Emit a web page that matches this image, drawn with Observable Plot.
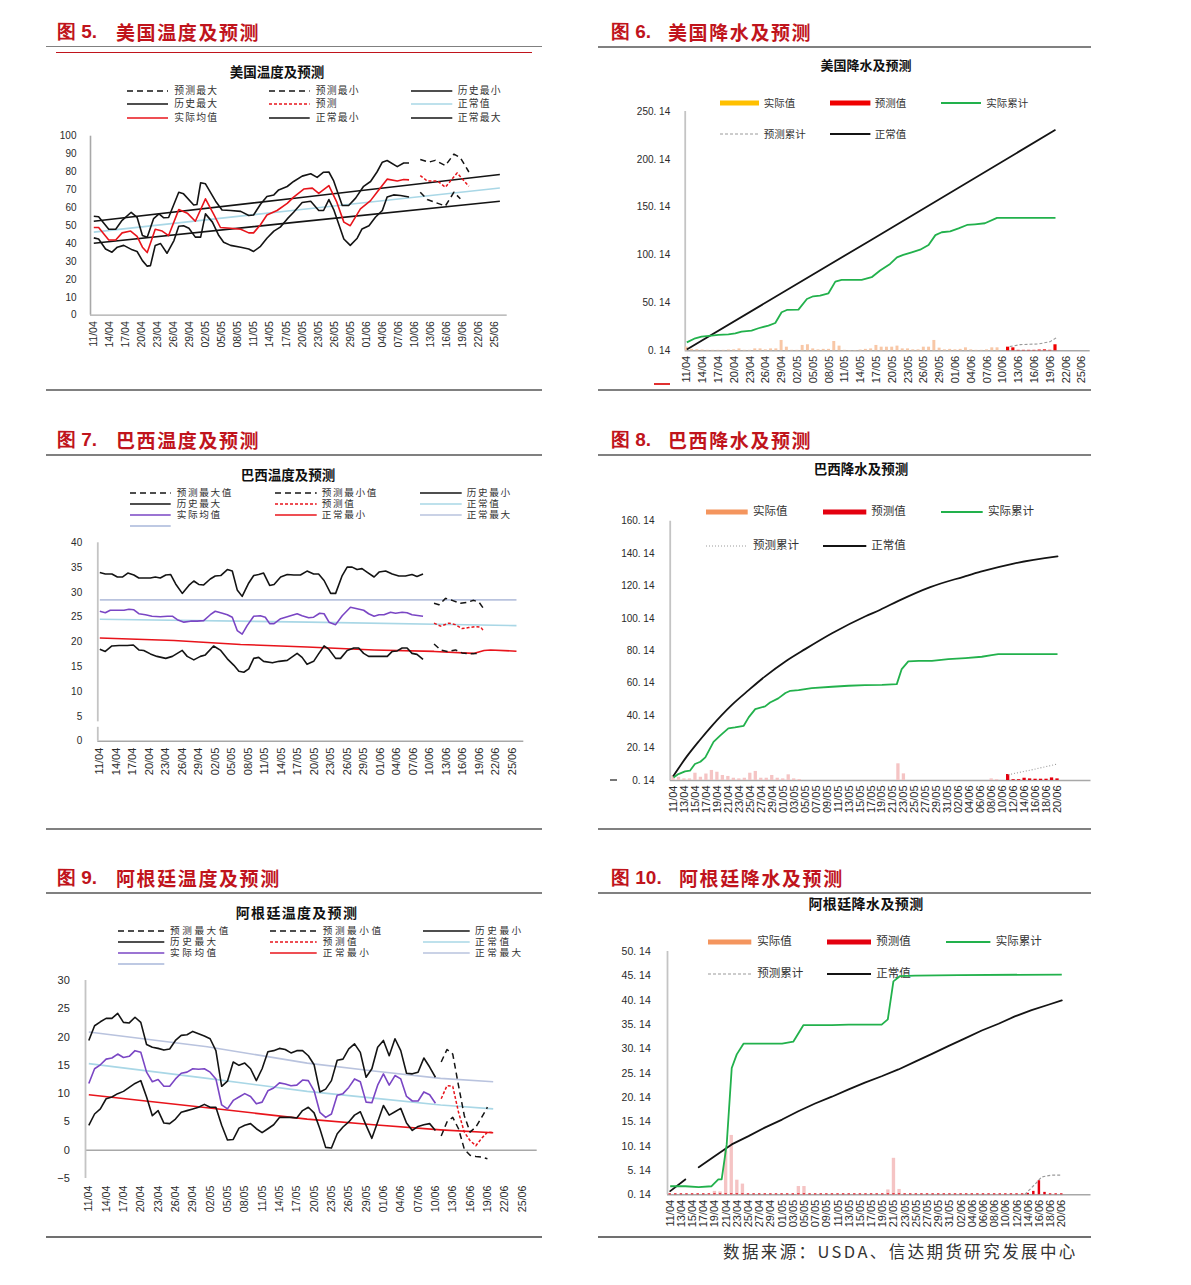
<!DOCTYPE html>
<html><head><meta charset="utf-8">
<script src="https://cdn.jsdelivr.net/npm/d3@7"></script>
<script src="https://cdn.jsdelivr.net/npm/@observablehq/plot@0.6"></script>
<style>
body{margin:0;background:#fff;}
#root{position:relative;width:1191px;height:1285px;overflow:hidden;font-family:"Liberation Sans",Arial,"Noto Sans CJK SC",sans-serif;}
.hdr{position:absolute;color:#c0141c;font-family:"Noto Sans CJK SC",sans-serif;font-weight:700;font-size:19px;white-space:nowrap;line-height:1;transform:translateY(-50%);}
.ttl{position:absolute;font-family:"Noto Sans CJK SC",sans-serif;font-weight:700;color:#111;transform:translate(-50%,-50%);white-space:nowrap;line-height:1;}
.lt{position:absolute;font-family:"Liberation Sans","Noto Sans CJK SC",sans-serif;color:#333;transform:translateY(-50%);white-space:nowrap;line-height:1;}
</style></head><body><div id="root"></div>
<script>
// ---------- tick labels ----------
const ticks3 = ["11/04","14/04","17/04","20/04","23/04","26/04","29/04","02/05","05/05","08/05","11/05","14/05","17/05","20/05","23/05","26/05","29/05","01/06","04/06","07/06","10/06","13/06","16/06","19/06","22/06","25/06"];
const ticks2 = ["11/04","13/04","15/04","17/04","19/04","21/04","23/04","25/04","27/04","29/04","01/05","03/05","05/05","07/05","09/05","11/05","13/05","15/05","17/05","19/05","21/05","23/05","25/05","27/05","29/05","31/05","02/06","04/06","06/06","08/06","10/06","12/06","14/06","16/06","18/06","20/06"];
const tempTicksUS = [0,10,20,30,40,50,60,70,80,90,100];
const tempTicksBR = [0,5,10,15,20,25,30,35,40];
const tempTicksAR = [-5,0,5,10,15,20,25,30];
const precTicksUS = [0.14,50.14,100.14,150.14,200.14,250.14];
const precTicksBR = [0.14,20.14,40.14,60.14,80.14,100.14,120.14,140.14,160.14];
const precTicksAR = [0.14,5.14,10.14,15.14,20.14,25.14,30.14,35.14,40.14,45.14,50.14];

// ---------- 美国温度 (day offset from 11/04, value) ----------
const usTempActual = [[0,49],[0.9,49],[2.8,42],[4.1,42],[5.3,46],[6.9,47],[8.1,44],[9.1,38],[10,35],[11.5,48],[12.8,47],[14,44.5],[15.9,59],[17.5,57],[19,52.5],[20.9,65],[22.5,56],[23.7,49],[25.6,48.6],[27.5,48],[29,46],[29.9,46],[31.2,50.5],[32.4,56],[34.3,58.5],[36.2,62.5],[37.4,66],[39.3,70.5],[40.9,71],[42.1,68],[44,72.4],[45.5,63],[46.8,52],[48,50],[49.9,59.4],[51.8,64],[53,68.7],[54.9,76],[56.8,75],[58,75.8],[59,75.6]];
const usTempForecast = [[61.1,78],[62.4,75],[64.3,75],[65.8,71.5],[68,79.5],[70.2,72]];
const usTempHistMax = [[0,55.3],[0.9,55],[2.8,48],[4.1,48],[5.3,53],[7,57.5],[8.1,54.7],[9.1,44.5],[10,43.6],[11.2,54],[12.2,56.6],[13.1,54.4],[14,54.6],[15.9,68.7],[16.8,67.8],[18.7,61.6],[19.3,61.8],[20,74],[20.9,73.4],[22.8,63.7],[24,58.8],[25.6,58.5],[27.5,58],[29,55.7],[29.9,56],[31.2,62],[32.4,66.3],[33.7,67.2],[34.6,70],[36.2,71.9],[37.4,74.7],[39,77.7],[40.6,79],[41.8,77],[43,79.9],[44,80],[44.9,75],[46.5,61.3],[47.7,61.3],[49,65.4],[50.5,72],[51.8,74.7],[53,80],[54,85.5],[54.9,86.4],[56.8,83],[58,85],[59,85]];
const usTempFcMax = [[61.1,87],[62.7,85.5],[63.9,86.5],[65.8,83.6],[67.4,90],[68.6,88],[70.2,80]];
const usTempHistMin = [[0,43.2],[0.9,42.6],[2.2,37],[3.4,35.2],[4.4,38],[5.6,39],[7.2,36.5],[8.1,35.6],[9.1,30.5],[10,27.4],[10.6,27.7],[11.5,39],[12.5,40],[13.7,34.6],[15,41.7],[15.9,49.7],[16.8,50],[17.8,48.6],[19,43.6],[20,43.6],[20.9,56.6],[22.2,52],[23.4,44.5],[24.3,40.8],[25.6,39],[27.5,38],[29,37],[29.9,35.6],[31.2,38.5],[32.4,43],[33.7,47],[34.9,49.2],[36.2,53.8],[37.4,57.5],[39,63],[40.6,63.7],[42.1,58.5],[43,58.5],[44,64.6],[44.9,59],[46.8,42.6],[48,39],[49.3,43],[50.2,48.2],[51.5,50],[52.7,54.7],[54,58.5],[54.9,66],[56.1,67.2],[57.4,66.9],[59,66]];
const usTempFcMin = [[61.1,68.7],[62.4,64.6],[63.9,63],[65.8,61],[67.4,68.7],[68.6,65]];
const usTempNormMax = [[0,52.5],[38,65.5],[76,78.6]];
const usTempNorm = [[0,46.4],[38,58.8],[76,71.1]];
const usTempNormMin = [[0,40.2],[38,52],[76,63.7]];

// ---------- 美国降水 ----------
const usPrecAct = [3.8,1.5,1.2,0.8,0.5,0.5,0.5,0.5,0.8,1,2,0.5,0.5,2,2,1,2,2,10.8,3.8,0.5,0.5,5.6,6.3,2,1,1.5,1.5,9.7,4.9,0.5,0.3,0.3,0.8,1.5,2,5.6,3.8,3.8,3.8,4.9,2,2,1,1,3.8,3.8,10.8,2.8,1,1.5,1,1.5,3.1,1,0.5,0.5,1,3.1,3.1];
const usPrecFc = [3.8,3.1,0.5,0.5,0.5,0.5,0.8,1,0.5,6.3]; // from day 61
const usPrecCum = [[0,9],[1.6,13.2],[2.8,15],[4.7,16],[6,16.7],[7.9,17.4],[9.2,18.4],[10.4,20.2],[12.3,21.2],[13.6,23.7],[15.5,26.5],[16.8,29.2],[18,40.4],[19,42.8],[21.2,43.2],[22.8,54.3],[24,57.1],[25.3,57.8],[26.9,60.2],[28.2,72.4],[29.4,74.2],[31.3,74.2],[33.2,74.2],[35.1,77],[36.7,84],[38.6,90.9],[39.9,97.8],[41.1,100.3],[42.7,103],[44.3,105.8],[45.9,110.7],[47.2,121],[48.4,124],[50,125],[51.6,128],[53.2,131.6],[54.7,132.3],[56.6,133.4],[58.9,139],[61.1,139],[65.5,139],[70,139]];
const usPrecFcCum = [[61.3,4.5],[63.3,6.6],[66.8,7.3],[69,9.7],[70.3,14.3]];
const usPrecNormal = [[0,1.5],[35,116],[70,231]];

// ---------- 巴西温度 ----------
const brTempHistMax = [[0,34],[1,33.7],[2.2,33.7],[3.2,33.1],[4.1,33.1],[5.1,33.9],[6.2,33.5],[7.1,32.9],[8.3,32.9],[9.2,32.9],[10.1,33.1],[11,32.9],[12,33.5],[12.9,33.6],[13.8,31.7],[15,29.8],[16.2,31.4],[17.1,32.3],[18,31.6],[18.9,31.5],[20.1,32.7],[21,33.3],[22,33.4],[23.2,34.6],[24.1,34.3],[25,30.5],[25.9,29.2],[27.1,31.9],[28,33.4],[28.9,33.6],[29.8,33.9],[30.9,31.4],[31.7,31.6],[32.9,33.1],[34.1,33.6],[35.3,33.5],[36.5,33.5],[37.7,34.3],[38.9,33.7],[39.8,33.7],[40.8,32.4],[42,29.8],[42.9,29.8],[44.1,33.4],[45,35.1],[45.9,35.1],[46.8,34.6],[47.7,34.8],[48.6,34.1],[49.9,33.1],[50.8,34.1],[52,34.3],[53.2,33.7],[54.4,33.3],[55.6,33.3],[56.8,33.6],[57.7,33.2],[58.8,33.7]];
const brTempHistMin = [[0,18.55],[1,18.1],[2.2,19.2],[3.5,19.3],[5,19.3],[6.1,19.4],[7.1,18.4],[8,18.3],[9.2,17.6],[10.4,17.1],[12,16.7],[13.2,17.1],[15,18.3],[15.9,17.1],[17.1,16.4],[18.3,17.1],[19.2,17.4],[20.7,19.2],[22,18.3],[23.2,16.6],[24.4,15.3],[25.3,14.1],[26.2,13.9],[27.1,14.6],[28,16.7],[28.9,16.9],[29.8,16.1],[31.4,15.8],[32.6,16.1],[34.1,16.3],[35.9,17.7],[36.8,16.9],[37.7,15.5],[38.9,16.1],[39.8,17.6],[40.8,19.2],[41.7,18.5],[42.9,16.7],[43.8,16.7],[45,18.3],[46.2,18.8],[47.1,18.8],[48,17.7],[48.9,17.1],[49.9,17.1],[51.4,17.1],[52.3,17.1],[53.2,18.1],[54.1,18.2],[55,18.8],[55.9,18.8],[56.8,17.7],[57.7,17.5],[58.8,16.5]];
const brTempActual = [[0,26.2],[1,25.9],[1.9,26.4],[3.5,26.4],[4.4,26.4],[5.3,26.6],[6.2,26.5],[7.1,25.7],[8.3,25.5],[9.5,25.2],[11,25.1],[12.3,25.2],[13.2,25.2],[14.1,24.5],[15.3,24],[16.5,24.2],[17.7,24.2],[18.9,24.3],[20.1,25.5],[21,26.2],[22.3,25.8],[23.2,25.5],[24.1,25],[25,22.3],[25.9,21.6],[26.8,23.3],[28,25.2],[29.2,25.3],[30.1,25],[30.9,23.7],[31.7,23.7],[32.9,24.7],[34.4,25.2],[35.9,25.7],[36.8,25.3],[38,24.9],[38.9,25],[40,25.8],[40.8,25.7],[41.7,24],[42.9,23.5],[44.1,25.3],[45.6,27],[46.8,26.7],[48,26.4],[48.9,25.7],[49.9,25.2],[50.8,25.5],[51.7,25.5],[52.9,26],[53.8,25.8],[55,26],[55.9,25.9],[56.8,25.5],[58.8,25.2]];
const brTempFcMax = [[60.8,27.8],[61.7,27.5],[62.9,28.8],[64.1,28.4],[65.6,27.8],[66.8,28],[68,28.4],[69,28],[69.9,26.6]];
const brTempFc = [[60.8,23.8],[62,23.2],[63.5,23.8],[64.7,23.5],[65.9,22.7],[67.1,22.9],[68.3,23.1],[69.3,23],[69.9,22.1]];
const brTempFcMin = [[60.8,19.6],[62,18.4],[63.2,18.1],[64.7,18.4],[65.9,17.8],[67.1,17.6],[68.3,17.7],[69.3,17.7]];
const brTempNormMax = [[0,28.5],[38,28.5],[75.8,28.5]];
const brTempNorm = [[0,24.6],[38,24],[75.8,23.3]];
const brTempNormMin = [[0,20.8],[13.5,20.3],[25.6,19.5],[37.7,19],[49.9,18.4],[60.8,18.1],[68,17.7],[69.9,18.3],[71.1,18.4],[75.8,18.15]];

// ---------- 巴西降水 ----------
const brPrecAct = [3,2,1,1,4.5,2,4,6.2,5.1,3.1,2.5,1.4,1,1.4,4.5,5.6,1.4,1.4,3.1,1.4,1,3.5,1,0.6,0,0,0,0,0,0,0,0,0,0,0,0,0,0,0,0,0,10.3,4.1,0,0,0,0,0,0,0,0,0,0,0,0,0,0,0,1,0.5,0];
const brPrecFc = [3.7,0.5,0.5,1.4,1,0.8,0.8,0.8,1.6,1]; // from day 61
const brPrecCum = [[0,2],[0.9,4.1],[2.1,5.8],[3,6.2],[3.9,10.3],[4.9,11.7],[5.8,14.4],[7.3,24],[8.5,27.8],[10,32.3],[11.2,32.9],[12.8,33.9],[13.7,39.1],[14.9,44.2],[16.7,45.9],[17.6,48.3],[19.1,50.8],[20.4,54.1],[21.3,55.5],[22.8,55.9],[25.2,57.2],[28.9,58],[31.9,58.6],[34.9,59],[38,59.2],[40.7,59.6],[41.6,68.9],[42.8,73.6],[44.7,74],[47.1,74],[50.1,75],[53.2,75.7],[56.2,76.5],[58,77.5],[59.2,78.1],[62.3,78.1],[70,78.1]];
const brPrecFcCum = [[61,3.7],[65,6.5],[70,10.3]];
const brPrecNormal = [[0,3],[2.3,14.4],[4.7,24.7],[7,33.9],[10.6,46.7],[13.7,55.9],[16.7,64.4],[20.4,73.6],[24,81.2],[28.9,91],[35,101.5],[37.7,105.5],[41,111],[46.8,119.5],[53,126],[56,129],[62,134],[70,138.4]];

// ---------- 阿根廷温度 (daily from 11/04) ----------
const arTempHistMax = [19.4,22,22.7,23.3,23.3,24.2,22.6,22.5,23.5,22.6,18.7,18.2,18,17.7,17.9,19.4,20.3,20.4,21,20.6,20.2,19.7,17.6,11.3,12.2,15.6,15,15.4,14.4,12.3,14.4,17.4,17.6,18,17.8,17.2,17.6,17.6,16.7,15.1,10.3,10.8,12.3,15.9,16.1,17.9,18.8,17.3,12.9,14.4,18.2,19.4,16.7,19.7,17.6,13.6,13.5,13.8,16.3,14.7,12.9];
const arTempActual = [11.8,14.4,15.1,16.1,16.3,17,16.4,16.6,17.6,17.3,13.8,12.1,12.5,11.3,11.3,12.6,13.6,13.8,14.4,14.3,14.4,13.8,12.6,8,7.3,8.8,9.4,10,9.5,8.2,8.5,10.5,11,11.9,11.7,11.4,11.5,12.4,12.3,10.5,6.7,5.8,6.4,9.7,10,11.1,12.6,12.1,8.5,8.4,11.5,13.5,11.5,13.2,12.6,9.5,8.7,8.7,10.3,9.8,8.3];
const arTempHistMin = [4.4,6.4,7.3,9.1,9.4,10,10.4,11.1,11.8,12.3,9.4,6.1,7,4.8,4.7,5.5,6.7,7,7.3,7.6,8.1,7.6,7.6,4.4,1.8,1.9,3.9,4.4,4.7,3.8,3.1,3.8,4.5,5.8,5.8,5.8,5.7,7,7.6,6.6,3.8,0.5,0.4,2.9,4.1,5,6.2,6.8,4.4,2.1,5,7.9,6.2,6.8,7.4,4.8,3.5,4.2,4.5,4.7,3.5];
const arTempFcMax = [15.6,17.8,17,11.4,6.1,3.2,4.1,5.8,7.6];   // from day 61
const arTempFc = [9.1,11.4,11.3,6.7,3.2,1.7,0.8,2.1,3.2,3.1];   // from day 61
const arTempFcMin = [2.5,5,5.8,3.8,0.2,-0.9,-1.1,-1.2,-1.5];    // from day 61
const arTempNormMax = [[0,20.9],[20.5,18.3],[37.8,15.4],[49.3,14],[60.9,12.7],[70,12.1]];
const arTempNorm = [[0,15.3],[20.5,12.7],[37.8,10.4],[49.3,9.2],[60.9,8],[70,7.3]];
const arTempNormMin = [[0,9.8],[20.5,7.5],[37.8,5.5],[49.3,4.5],[60.9,3.6],[70,3.1]];

// ---------- 阿根廷降水 ----------
const arPrecAct = [0,0,0,0,0,0,0,0.1,0.7,0.6,9,12.2,3,2.2,0,0,0,0,0,0,0,0,0,1.7,1.7,0,0,0,0,0,0,0,0,0,0,0,0,0,0,1,7.5,1.1,0,0,0,0,0,0,0,0,0,0,0,0,0,0,0,0,0,0,0];
const arPrecFc = [0.2,0.2,0.2,0.2,0.2,0.2,0.2,0.2,0.2,0.2,0.2,0.2,0.2,0.2,0.2,0.2,0.2,0.2,0.2,0.2,0.2,0.2,0.2,0.2,0.2,0.2,0.2,0.2,0.2,0.2,0.2,0.2,0.2,0.2,0.2,0.2,0.2,0.2,0.2,0.2,0.2,0.2,0.2,0.2,0.2,0.2,0.2,0.2,0.2,0.2,0.2,0.2,0.2,0.2,0.2,0.2,0.2,0.2,0.2,0.2,0.2,0.2,0.2,0.2,0.3,0.7,2.9,0.5,0.2,0.2,0.2];
const arPrecCum = [[0,1.9],[2.7,1.9],[5.1,1.7],[7.4,1.9],[8.6,3.3],[9.2,3.3],[10.1,10.5],[11,26.2],[11.9,29],[13.1,31.2],[15.2,31.2],[20,31.2],[22,31.6],[23.8,35],[25.9,35],[28.9,35],[31.9,35.1],[37.8,35.1],[38.9,36.2],[39.9,44],[41.1,45.1],[43.8,45.2],[51.5,45.3],[70,45.4]];
const arPrecFcCum = [[63.4,0.2],[65.2,2.3],[66.4,3.8],[68.2,4.2],[70,4.2]];
const arPrecNormal = [[0,0.9],[2.7,3.3],[null,null],[5.1,5.8],[8,8.1],[11,10.5],[14,12.2],[17,14],[20,15.6],[22.9,17.3],[25.9,18.9],[28.9,20.3],[31.9,21.8],[34.8,23.2],[37.8,24.5],[40.8,25.9],[43.8,27.5],[46.8,29.1],[49.7,30.7],[52.7,32.3],[55.7,33.9],[58.7,35.3],[61.6,36.8],[64.6,38.1],[67.6,39.2],[70,40.1]];

// ---------- helpers ----------
const root = document.getElementById("root");
const C = {black:"#141414", red:"#e8141b", blue:"#a9d7e6", peri:"#b9c3de", peri2:"#a9b7da", purple:"#7a46c4", green:"#22b14c", gray:"#9a9a9a", axis:"#a8a8a8", axis2:"#c4c4c4", peach:"#f8c7a6", pink:"#f5c4c4", gold:"#ffc000", orange:"#f4955e"};
const P = arr => arr.map(([day, v]) => ({day, v}));
const D = (arr, start = 0) => arr.map((v, i) => ({day: start + i, v}));

function hline(x1, x2, y, color, w) {
  const d = document.createElement("div");
  d.style.cssText = `position:absolute;left:${x1}px;top:${y - w / 2}px;width:${x2 - x1}px;height:${w}px;background:${color}`;
  root.appendChild(d);
}
function txt(cls, x, y, s, css = "") {
  const d = document.createElement("div");
  d.className = cls; d.textContent = s;
  d.style.cssText += `left:${x}px;top:${y}px;${css}`;
  root.appendChild(d);
}
function swatch(x1, x2, y, stroke, width = 1.6, dash = null) {
  const h = 10;
  const ns = "http://www.w3.org/2000/svg";
  const svg = document.createElementNS(ns, "svg");
  svg.setAttribute("width", x2 - x1); svg.setAttribute("height", h);
  svg.style.cssText = `position:absolute;left:${x1}px;top:${y - h / 2}px;overflow:visible`;
  const l = document.createElementNS(ns, "line");
  l.setAttribute("x1", 0); l.setAttribute("x2", x2 - x1); l.setAttribute("y1", h / 2); l.setAttribute("y2", h / 2);
  l.setAttribute("stroke", stroke); l.setAttribute("stroke-width", width);
  if (dash) l.setAttribute("stroke-dasharray", dash);
  svg.appendChild(l); root.appendChild(svg);
}
function legend(rows, cols, items, fs, ls = 0) {
  items.forEach((row, r) => row.forEach((it, c) => {
    if (!it) return;
    const [x1, x2, tx] = cols[c];
    swatch(x1, x2, rows[r], it.s, it.w || 1.6, it.d);
    if (it.l) txt("lt", tx, rows[r], it.l, `font-size:${fs}px;letter-spacing:${ls}px;`);
  }));
}

function makePlot(cfg) {
  const {left, top, width, height, ax, axEnd, yTopPx, yBotPx, yDomain, day0px, dayPx,
         yTicks, yFmt, yPad, yFont, xLabels, xStep, xPad, xFont, base, axisColor, yAxisColor, axisW, ySegs, marks} = cfg;
  const xd0 = (ax - day0px) / dayPx, xd1 = (axEnd - day0px) / dayPx;
  const xTickVals = xLabels.map((_, i) => i * xStep);
  const b = base ?? yDomain[0];
  const segs = ySegs || [yDomain];
  const svg = Plot.plot({
    width, height,
    marginLeft: ax - left, marginRight: left + width - axEnd,
    marginTop: yTopPx - top, marginBottom: top + height - yBotPx,
    x: {type: "linear", domain: [xd0, xd1], label: null},
    y: {type: "linear", domain: yDomain, label: null},
    style: {fontFamily: '"Liberation Sans", Arial, sans-serif', fontSize: "10px", color: "#2a2a2a", background: "transparent", overflow: "visible"},
    marks: [
      Plot.ruleY([b], {x1: xd0, x2: xd1, stroke: axisColor, strokeWidth: axisW}),
      ...segs.map(s => Plot.ruleX([xd0], {y1: s[0], y2: s[1], stroke: yAxisColor || axisColor, strokeWidth: axisW + 0.3})),
      ...marks,
      Plot.axisY(yTicks, {anchor: "left", label: null, tickSize: 0, tickPadding: yPad, tickFormat: yFmt, fontSize: yFont}),
      Plot.axisX(xTickVals, {anchor: "bottom", label: null, tickSize: 0, tickPadding: xPad, tickRotate: -90, tickFormat: d => xLabels[Math.round(d / xStep)], fontSize: xFont})
    ]
  });
  svg.style.position = "absolute"; svg.style.left = left + "px"; svg.style.top = top + "px";
  root.appendChild(svg);
}
const ln = (data, stroke, w = 1.6, dash) => Plot.line(data, {x: "day", y: "v", stroke, strokeWidth: w, strokeDasharray: dash, strokeLinejoin: "round", strokeLinecap: "butt"});
const bars = (data, fill, base, hw) => Plot.rect(data.filter(d => d.v > 0), {x1: d => d.day - hw, x2: d => d.day + hw, y1: base, y2: d => base + d.v, fill});
const precFmt = d => d.toFixed(2).replace(".", ". ");

// ---------- frame lines & headers ----------
[[46,542],[598,1091]].forEach(([a,b]) => { hline(a,b,390,"#808080",1.5); hline(a,b,829,"#808080",1.5); hline(a,b,1237,"#707070",1.5); hline(a,b,455,"#808080",1.5); hline(a,b,893,"#808080",1.5); });
hline(46,542,46.5,"#808080",1.5); hline(56,532,52.5,"#c0141c",1.3);
hline(598,1091,47,"#808080",1.5);
const hdrs = [[57,116,31,"图 5.","美国温度及预测"],[611,668,31,"图 6.","美国降水及预测"],[57,116,439,"图 7.","巴西温度及预测"],[611,668,439,"图 8.","巴西降水及预测"],[57,116,877,"图 9.","阿根廷温度及预测"],[611,679,877,"图 10.","阿根廷降水及预测"]];
hdrs.forEach(([x1,x2,y,a,b]) => { txt("hdr", x1, y, a, "font-family:'Liberation Sans',Arial,sans-serif;font-size:19px;"); txt("hdr", x2, y, b, "letter-spacing:1.6px;"); });
txt("lt", 723, 1251, "数据来源：USDA、信达期货研究发展中心", "font-family:'Noto Sans CJK SC',sans-serif;font-size:16.5px;letter-spacing:2.4px;color:#333;");

// chart titles
txt("ttl", 277, 72, "美国温度及预测", "font-size:13.5px;");
txt("ttl", 866, 64, "美国降水及预测", "font-size:13px;");
txt("ttl", 288, 474.5, "巴西温度及预测", "font-size:13.5px;");
txt("ttl", 861, 469, "巴西降水及预测", "font-size:13.5px;");
txt("ttl", 297, 912, "阿根廷温度及预测", "font-size:14px;letter-spacing:1.3px;");
txt("ttl", 866, 902.5, "阿根廷降水及预测", "font-size:14px;letter-spacing:0.4px;");

// ---------- legends ----------
legend([90.7,104.3,117.7], [[127.3,168.3,174.3],[269.3,310,315.7],[411,452.3,457.7]], [
  [{l:"预测最大",s:C.black,d:"6,4"},{l:"预测最小",s:C.black,d:"6,4"},{l:"历史最小",s:C.black}],
  [{l:"历史最大",s:C.black},{l:"预测",s:C.red,d:"3,2"},{l:"正常值",s:C.blue}],
  [{l:"实际均值",s:C.red},{l:"正常最小",s:C.black},{l:"正常最大",s:C.black}]], 9.8, 1.2);
legend([103.3,134.3], [[719.7,758.7,763.7],[830.3,870.7,874.7],[941.3,981.3,986.3]], [
  [{l:"实际值",s:C.gold,w:5},{l:"预测值",s:"#f00000",w:5},{l:"实际累计",s:C.green,w:1.8}],
  [{l:"预测累计",s:C.gray,w:1,d:"3,2"},{l:"正常值",s:C.black,w:1.8}]], 10.5);
const tempLegendItems = [
  [{l:"预测最大值",s:C.black,d:"6,4"},{l:"预测最小值",s:C.black,d:"6,4"},{l:"历史最小",s:C.black}],
  [{l:"历史最大",s:C.black},{l:"预测值",s:C.red,d:"3,2"},{l:"正常值",s:C.blue}],
  [{l:"实际均值",s:C.purple},{l:"正常最小",s:C.red},{l:"正常最大",s:C.peri}],
  [{l:"",s:C.peri2}]];
legend([493.3,504.3,515.3,526], [[130,170.7,176.7],[275,316.7,321.7],[420,461.7,466.7]], tempLegendItems, 9.6, 1.7);
legend([512.3,545.7], [[706.3,748,753],[823,866.3,871.3],[941.3,983,988]], [
  [{l:"实际值",s:C.orange,w:5},{l:"预测值",s:"#e4000f",w:5},{l:"实际累计",s:C.green,w:1.8}],
  [{l:"预测累计",s:C.gray,w:1,d:"1,2"},{l:"正常值",s:C.black,w:1.8}]], 11.5);
legend([931,942,953.3,964], [[117.7,164,170],[270,316.7,322.7],[423.3,470,475]], tempLegendItems, 9.6, 2.6);
legend([942.3,974.3], [[708,751.3,757.3],[827.3,871.3,876.3],[946.3,990.7,995.7]], [
  [{l:"实际值",s:C.orange,w:5},{l:"预测值",s:"#e4000f",w:5},{l:"实际累计",s:C.green,w:1.8}],
  [{l:"预测累计",s:C.gray,w:1.2,d:"3,2"},{l:"正常值",s:C.black,w:1.8}]], 11.5);

// small marks near axes
hline(609.7,617.3,780,"#777",1.2);
hline(654,670,384,"#e03030",2);

// ---------- panel 5: 美国温度 ----------
makePlot({left:46, top:120, width:496, height:265, ax:90, axEnd:506.7, yTopPx:135.7, yBotPx:314.7, yDomain:[0,100],
  day0px:93.3, dayPx:5.343, yTicks:tempTicksUS, yFmt:d => String(d), yPad:14, yFont:10,
  xLabels:ticks3, xStep:3, xPad:6, xFont:10.5, axisColor:C.axis, axisW:1.3,
  marks:[
    ln(P(usTempNorm), C.blue, 1.6), ln(P(usTempNormMax), C.black, 1.6), ln(P(usTempNormMin), C.black, 1.6),
    ln(P(usTempHistMax), C.black, 1.6), ln(P(usTempHistMin), C.black, 1.6), ln(P(usTempActual), C.red, 1.6),
    ln(P(usTempFcMax), C.black, 1.5, "6,4"), ln(P(usTempFcMin), C.black, 1.5, "6,4"), ln(P(usTempForecast), C.red, 1.5, "3,2")
  ]});

// ---------- panel 6: 美国降水 ----------
makePlot({left:598, top:100, width:493, height:290, ax:684.7, axEnd:1089.7, yTopPx:111, yBotPx:350.3, yDomain:[0.14,250.14],
  day0px:686.3, dayPx:5.267, yTicks:precTicksUS, yFmt:precFmt, yPad:15, yFont:10,
  xLabels:ticks3, xStep:3, xPad:5, xFont:11, axisColor:C.axis, yAxisColor:C.axis2, axisW:1.5,
  marks:[
    bars(D(usPrecAct), C.peach, 0.14, 0.28), bars(D(usPrecFc, 61), "#f00000", 0.14, 0.3),
    ln(P(usPrecNormal), C.black, 1.8), ln(P(usPrecCum), C.green, 1.8), ln(P(usPrecFcCum), C.gray, 1.1, "3,2")
  ]});

// ---------- panel 7: 巴西温度 ----------
makePlot({left:46, top:530, width:496, height:290, ax:97.3, axEnd:523.3, yTopPx:542.3, yBotPx:740.7, yDomain:[0,40],
  day0px:99.3, dayPx:5.497, yTicks:tempTicksBR, yFmt:d => String(d), yPad:15.6, yFont:10,
  xLabels:ticks3, xStep:3, xPad:6.5, xFont:11, axisColor:C.axis, yAxisColor:C.axis2, axisW:1.5, ySegs:[[3.9,40],[0,2.8]],
  marks:[
    ln(P(brTempNormMax), C.peri, 1.6), ln(P(brTempNorm), C.blue, 1.6), ln(P(brTempNormMin), C.red, 1.6),
    ln(P(brTempHistMax), C.black, 1.6), ln(P(brTempHistMin), C.black, 1.6), ln(P(brTempActual), C.purple, 1.6),
    ln(P(brTempFcMax), C.black, 1.5, "6,4"), ln(P(brTempFcMin), C.black, 1.5, "6,4"), ln(P(brTempFc), C.red, 1.5, "3,2")
  ]});

// ---------- panel 8: 巴西降水 ----------
makePlot({left:598, top:510, width:493, height:315, ax:669.7, axEnd:1090.5, yTopPx:520.7, yBotPx:780, yDomain:[0.14,160.14],
  day0px:673, dayPx:5.486, yTicks:precTicksBR, yFmt:precFmt, yPad:15.7, yFont:10,
  xLabels:ticks2, xStep:2, xPad:5, xFont:11, axisColor:C.axis, yAxisColor:C.axis2, axisW:1.5,
  marks:[
    bars(D(brPrecAct), C.pink, 0.14, 0.3), bars(D(brPrecFc, 61), "#e4000f", 0.14, 0.3),
    Plot.line(P(brPrecNormal), {x:"day", y:"v", stroke:C.black, strokeWidth:1.8, curve:"monotone-x"}),
    ln(P(brPrecCum), C.green, 1.8), ln(P(brPrecFcCum), C.gray, 1.1, "1,2")
  ]});

// ---------- panel 9: 阿根廷温度 ----------
makePlot({left:46, top:970, width:496, height:262, ax:85, axEnd:536.7, yTopPx:980, yBotPx:1178, yDomain:[-5,30],
  day0px:88.3, dayPx:5.777, yTicks:tempTicksAR, yFmt:d => d < 0 ? "\u2212" + Math.abs(d) : String(d), yPad:15.7, yFont:11,
  xLabels:ticks3, xStep:3, xPad:7, xFont:10.7, base:0, axisColor:C.axis, yAxisColor:C.axis2, axisW:1.5,
  marks:[
    ln(P(arTempNormMax), C.peri, 1.6), ln(P(arTempNorm), C.blue, 1.6), ln(P(arTempNormMin), C.red, 1.6),
    ln(D(arTempHistMax), C.black, 1.6), ln(D(arTempHistMin), C.black, 1.6), ln(D(arTempActual), C.purple, 1.6),
    ln(D(arTempFcMax, 61), C.black, 1.5, "6,4"), ln(D(arTempFcMin, 61), C.black, 1.5, "6,4"), ln(D(arTempFc, 61), C.red, 1.5, "3,2")
  ]});

// ---------- panel 10: 阿根廷降水 ----------
makePlot({left:598, top:940, width:493, height:292, ax:667, axEnd:1090.5, yTopPx:951, yBotPx:1194.3, yDomain:[0.14,50.14],
  day0px:669.7, dayPx:5.594, yTicks:precTicksAR, yFmt:precFmt, yPad:16.7, yFont:10.5,
  xLabels:ticks2, xStep:2, xPad:5, xFont:11, axisColor:C.axis, yAxisColor:C.axis2, axisW:1.5,
  marks:[
    bars(D(arPrecAct), C.pink, 0.14, 0.3), bars(D(arPrecFc), "#e4000f", 0.14, 0.22),
    Plot.line(P(arPrecNormal), {x:"day", y:"v", stroke:C.black, strokeWidth:1.8, defined: d => d.day != null}),
    ln(P(arPrecCum), C.green, 1.8), ln(P(arPrecFcCum), C.gray, 1.2, "3,2")
  ]});
</script></body></html>
